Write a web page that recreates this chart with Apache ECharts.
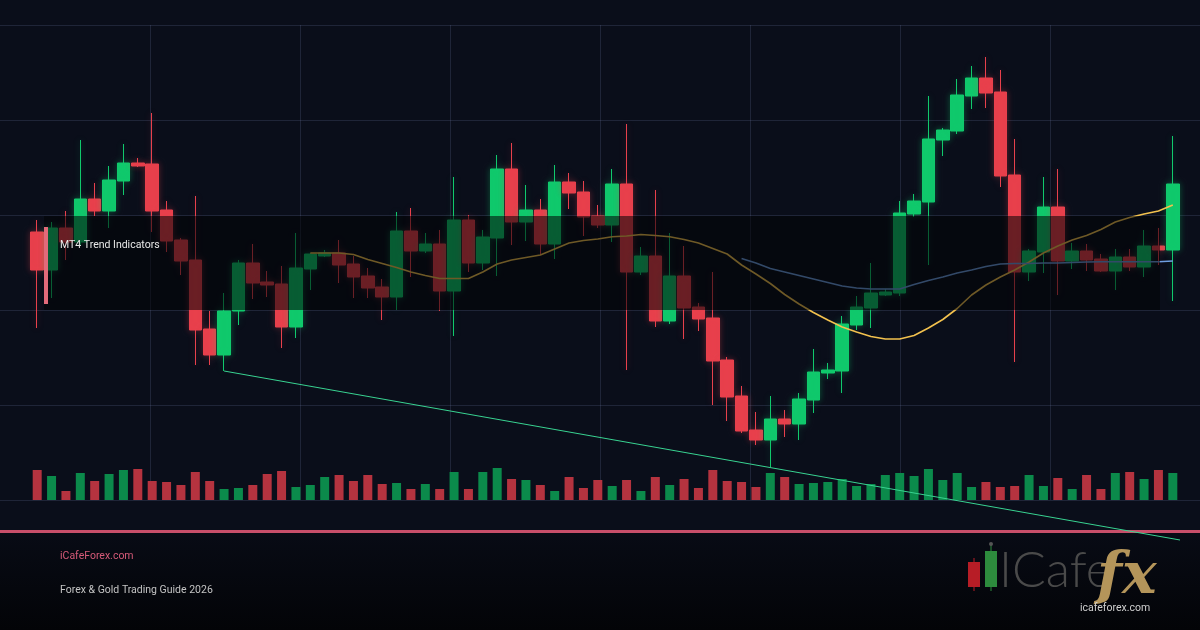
<!DOCTYPE html>
<html>
<head>
<meta charset="utf-8">
<script src="https://cdn.jsdelivr.net/npm/echarts@6/dist/echarts.min.js"></script>
<style>
html,body{margin:0;padding:0;background:#0a0e1a;}
#chart{width:1200px;height:630px;}
</style>
</head>
<body>
<div id="chart"></div>
<script>
// ---- data (price units; [open, close, low, high]) ----
const categories = ['D1','D2','D3','D4','D5','D6','D7','D8','D9','D10','D11','D12','D13','D14','D15','D16','D17','D18','D19','D20',
'D21','D22','D23','D24','D25','D26','D27','D28','D29','D30','D31','D32','D33','D34','D35','D36','D37','D38','D39','D40',
'D41','D42','D43','D44','D45','D46','D47','D48','D49','D50','D51','D52','D53','D54','D55','D56','D57','D58','D59','D60',
'D61','D62','D63','D64','D65','D66','D67','D68','D69','D70','D71','D72','D73','D74','D75','D76','D77','D78','D79','D80'];

const ohlc = [
[2263,2225,2167,2275],[2225,2267,2197,2273],[2267,2253,2235,2284],[2253,2296,2250,2355],[2296,2284,2279,2312],
[2284,2315,2267,2329],[2314,2332,2300,2351],[2332,2329,2328,2337],[2331,2284,2263,2382],[2285,2254,2243,2294],
[2255,2234,2220,2257],[2235,2165,2130,2299],[2166,2140,2130,2184],[2140,2184,2124,2202],[2184,2232,2170,2235],
[2232,2212,2196,2251],[2213,2210,2198,2224],[2211,2168,2147,2229],[2168,2227,2157,2262],[2226,2241,2205,2242],
[2239,2242,2238,2245],[2242,2230,2212,2255],[2231,2218,2197,2239],[2219,2207,2197,2227],[2208,2198,2175,2216],
[2198,2264,2185,2283],[2264,2244,2218,2287],[2244,2251,2242,2262],[2251,2204,2184,2265],[2204,2275,2159,2318],
[2275,2232,2223,2280],[2232,2258,2225,2265],[2257,2326,2219,2340],[2326,2273,2250,2352],[2273,2285,2254,2310],
[2285,2251,2240,2296],[2251,2313,2236,2330],[2313,2302,2286,2322],[2303,2278,2259,2314],[2279,2270,2267,2290],
[2270,2311,2253,2326],[2311,2223,2125,2371],[2223,2239,2220,2248],[2239,2174,2168,2305],[2174,2219,2171,2262],
[2219,2187,2156,2249],[2188,2176,2164,2192],[2177,2134,2090,2223],[2135,2098,2074,2138],[2099,2064,2062,2109],
[2065,2055,2050,2083],[2055,2076,2028,2099],[2076,2071,2058,2085],[2071,2096,2055,2102],[2095,2123,2082,2146],
[2122,2125,2116,2132],[2124,2171,2102,2179],[2170,2188,2165,2199],[2187,2202,2167,2232],[2200,2203,2199,2206],
[2202,2282,2199,2294],[2281,2294,2278,2301],[2293,2356,2230,2399],[2355,2365,2339,2367],[2364,2400,2361,2416],
[2399,2417,2386,2429],[2417,2402,2387,2438],[2403,2319,2308,2425],[2320,2223,2133,2356],[2223,2244,2214,2246],
[2243,2288,2222,2318],[2288,2234,2200,2326],[2234,2244,2226,2252],[2244,2235,2224,2251],[2236,2224,2223,2241],
[2224,2238,2205,2246],[2238,2228,2224,2246],[2228,2249,2218,2265],[2249,2245,2230,2267],[2245,2311,2194,2359]
];

const volume = [30,24,9,27,19,26,30,31,19,18,15,28,19,11,12,15,26,29,13,15,23,25,19,25,16,17,11,16,11,28,11,28,32,21,20,15,9,23,12,20,
14,20,9,23,15,21,12,30,19,18,13,27,23,16,17,18,21,14,16,25,27,24,31,20,27,13,18,13,14,25,14,22,11,25,11,27,28,21,30,27];

const goldStart = 19;
const maGold = [2242,2242,2242,2240.5,2235.5,2231.5,2227.5,2223,2219.5,2216.5,2216.5,2216.5,2223,2231,2235,2237.5,2240,2246,2252,2254.5,
2256,2258.3,2259,2260.5,2259.5,2258.3,2255.5,2252,2246.5,2241,2230,2221,2211.5,2200.5,2191,2182.5,2175,2168,2163,2158.5,
2156,2156,2159.5,2167,2175.5,2186.5,2200,2210,2218,2225,2233,2242,2249,2255,2259.5,2265.5,2273,2277.5,2281,2284,2290];

const blueStart = 49;
const maBlue = [2236.5,2232,2226.5,2223,2219.5,2216,2212.5,2209,2207,2206,2206,2206,2210.5,2214.5,2218,2222,2225,2228.5,2231,2231.5,
2231.5,2232,2232,2232.5,2233,2233.3,2233.3,2233.3,2233.3,2233.3,2234];

// trendline: from the low of candle 14 to beyond the last candle
const trendLine = [[13, 2124], [79.5, 1955]];

const priceTicks = [1995, 2470, 95];

// ---- styles ----
const UP = '#10c96c', DOWN = '#e8404c';
const VUP = '#0b8a4b', VDOWN = '#b5333f';
const gridColor = 'rgba(110,125,165,0.22)';

const pad = (start, arr) => categories.map((_, i) => (i >= start && i - start < arr.length) ? arr[i - start] : null);

const candleData = ohlc.map(d => {
  const up = d[1] >= d[0];
  return { value: d, itemStyle: { shadowBlur: 6, shadowColor: up ? 'rgba(16,201,108,0.35)' : 'rgba(232,64,76,0.35)' } };
});
const volData = volume.map((v, i) => ({ value: v, itemStyle: { color: ohlc[i][1] >= ohlc[i][0] ? VUP : VDOWN } }));

const chart = echarts.init(document.getElementById('chart'), null, { renderer: 'canvas' });
const hidden = { show: false };
const noAxis = { axisLine: hidden, axisTick: hidden, axisLabel: hidden };
chart.setOption({
  backgroundColor: '#0a0e1a',
  animation: false,
  grid: [
    { left: 0, right: 0, top: 25, bottom: 130 },
    { left: 30, right: 20, top: 25, bottom: 130 },
    { left: 30, right: 20, top: 400, bottom: 130 },
    { left: 150, right: 150, top: 25, bottom: 130 }
  ],
  xAxis: [
    Object.assign({ gridIndex: 0, type: 'value', min: 0, max: 8, splitLine: hidden }, noAxis),
    { gridIndex: 1, type: 'category', data: categories, boundaryGap: true, show: false },
    { gridIndex: 1, type: 'value', min: -0.5, max: 79.5, show: false },
    { gridIndex: 2, type: 'category', data: categories, boundaryGap: true, show: false },
    Object.assign({ gridIndex: 3, type: 'value', min: 1, max: 7, interval: 1,
      splitLine: { show: true, lineStyle: { color: gridColor, width: 1 } } }, noAxis)
  ],
  yAxis: [
    Object.assign({ gridIndex: 0, type: 'value', min: 0, max: 5, interval: 1,
      splitLine: { show: true, lineStyle: { color: gridColor, width: 1 } } }, noAxis),
    { gridIndex: 1, type: 'value', min: priceTicks[0], max: priceTicks[1], interval: priceTicks[2], show: false, splitLine: hidden },
    { gridIndex: 2, type: 'value', min: 0, max: 100, show: false, splitLine: hidden },
    Object.assign({ gridIndex: 3, type: 'value', min: 0, max: 5, splitLine: hidden }, noAxis)
  ],
  series: [
    { type: 'bar', xAxisIndex: 3, yAxisIndex: 2, data: volData, barWidth: 9, z: 2 },
    { type: 'candlestick', xAxisIndex: 1, yAxisIndex: 1, data: candleData, barWidth: 13, z: 3,
      itemStyle: { color: UP, color0: DOWN, borderColor: UP, borderColor0: DOWN, borderWidth: 1 } },
    { type: 'line', xAxisIndex: 1, yAxisIndex: 1, data: pad(goldStart, maGold), showSymbol: false, z: 4,
      lineStyle: { color: '#f2c14e', width: 1.6 } },
    { type: 'line', xAxisIndex: 1, yAxisIndex: 1, data: pad(blueStart, maBlue), showSymbol: false, z: 4,
      lineStyle: { color: '#6e9ee0', width: 1.6 } },
    { type: 'line', xAxisIndex: 2, yAxisIndex: 1, data: trendLine, showSymbol: false, clip: false, z: 30,
      lineStyle: { color: '#38d391', width: 1 } }
  ],
  graphic: { elements: [
    { type: 'rect', z: 1, shape: { x: 0, y: 533, width: 1200, height: 97 },
      style: { fill: new echarts.graphic.LinearGradient(0, 0, 0, 1, [{ offset: 0, color: '#080b15' }, { offset: 1, color: '#030407' }]) } },
    { type: 'rect', z: 20, shape: { x: 0, y: 530, width: 1200, height: 3 }, style: { fill: '#c84f6a' } },
    { type: 'rect', z: 10, shape: { x: 44, y: 216, width: 1116, height: 94 }, style: { fill: 'rgba(2,3,6,0.55)' } },
    { type: 'rect', z: 11, shape: { x: 44, y: 227, width: 4, height: 77 }, style: { fill: '#e26a7a' } },
    { type: 'text', z: 11, x: 60, y: 245, style: { text: 'MT4 Trend Indicators', fill: '#e8e8e8', font: '10.5px Roboto', textVerticalAlign: 'middle' } },
    { type: 'text', z: 21, x: 60, y: 556, style: { text: 'iCafeForex.com', fill: '#d65a78', font: '10.5px Roboto', textVerticalAlign: 'middle' } },
    { type: 'text', z: 21, x: 60, y: 590, style: { text: 'Forex & Gold Trading Guide 2026', fill: '#c4c4c4', font: '10.5px Roboto', textVerticalAlign: 'middle' } },
    // logo
    { type: 'line', z: 21, shape: { x1: 974, y1: 558, x2: 974, y2: 591 }, style: { stroke: '#b71d26', lineWidth: 1 } },
    { type: 'rect', z: 22, shape: { x: 968, y: 562, width: 12, height: 25 }, style: { fill: '#b71d26' } },
    { type: 'line', z: 21, shape: { x1: 991, y1: 545, x2: 991, y2: 591 }, style: { stroke: '#2d8b3d', lineWidth: 1 } },
    { type: 'circle', z: 21, shape: { cx: 991, cy: 544, r: 2 }, style: { fill: '#555' } },
    { type: 'rect', z: 22, shape: { x: 985, y: 551, width: 12, height: 36 }, style: { fill: '#2d8b3d' } },
    { type: 'text', z: 21, x: 999, y: 571, style: { text: 'ICafe', fill: '#4a4a4a', font: '300 50px Lato', textVerticalAlign: 'middle' } },
    { type: 'text', z: 22, x: 1097, y: 578, style: { text: 'fx', fill: '#b4955a', font: 'italic bold 58px "DejaVu Serif"', textVerticalAlign: 'middle' } },
    { type: 'text', z: 23, x: 1080, y: 608, style: { text: 'icafeforex.com', fill: '#d0d0d0', font: '10.5px Roboto', textVerticalAlign: 'middle' } }
  ] }
});
</script>
</body>
</html>
